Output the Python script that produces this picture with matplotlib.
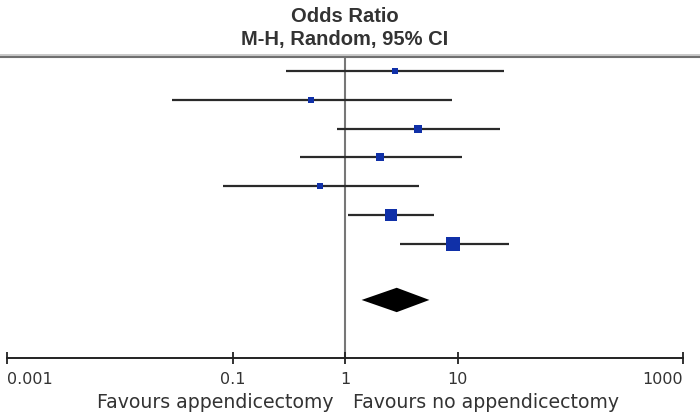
import numpy as np
import matplotlib.pyplot as plt
from matplotlib.lines import Line2D

# 各研究的 OR 及 95% CI
odds_ratio = [2.79, 0.50, 4.41, 2.04, 0.60, 2.54, 9.14]
ci_low = [0.30, 0.029, 0.85, 0.395, 0.082, 1.07, 3.07]
ci_high = [25.8, 8.85, 23.8, 11.0, 4.56, 6.12, 28.7]
weight = [5.6, 5.6, 11.1, 11.1, 6.8, 27.3, 32.5]  # %

# 合并效应 (M-H, Random)
pooled_or = 2.87
pooled_low = 1.40
pooled_high = 5.60

tick_values = [0.001, 0.1, 1, 10, 1000]
tick_labels = ['0.001', '0.1', '1', '10', '1000']

W, H = 700, 414
ROW_PX = 28.8      # 行距(像素)
FIRST_ROW_PX = 72  # 第一行位置
TOP_PX, AXIS_PX = 57, 359
X_LEFT_PX, X_RIGHT_PX = 7.3, 683

fig = plt.figure(figsize=(W / 100, H / 100), dpi=100)
ax = fig.add_axes([X_LEFT_PX / W, 1 - AXIS_PX / H,
                   (X_RIGHT_PX - X_LEFT_PX) / W, (AXIS_PX - TOP_PX) / H])
ax.set_xscale('log')
ax.set_xlim(0.001, 1000)
ax.set_ylim((AXIS_PX - FIRST_ROW_PX) / ROW_PX, (TOP_PX - FIRST_ROW_PX) / ROW_PX)

for s in ['top', 'left', 'right']:
    ax.spines[s].set_visible(False)
ax.spines['bottom'].set_color('#222222')
ax.spines['bottom'].set_linewidth(1.4)
ax.set_yticks([])
ax.set_xticks(tick_values)
ax.set_xticklabels(tick_labels, fontsize=11.5, color='#333333',
                   family='DejaVu Sans')
ax.minorticks_off()
ax.tick_params(axis='x', direction='inout', length=8.6, width=1.3,
               color='#222222', pad=5)
labels = ax.get_xticklabels()
labels[0].set_ha('left')
labels[-1].set_ha('right')

# 无效线
ax.axvline(1, color='#777777', lw=1.5, zorder=1)

rows = np.arange(len(odds_ratio))
ax.hlines(rows, ci_low, ci_high, color='#2a2a2a', lw=1.6, zorder=2)
for r, o, w in zip(rows, odds_ratio, weight):
    side = 2.4 * np.sqrt(w) * 0.72
    ax.plot(o, r, marker='s', ms=side, color='#1030a8', mec='#1030a8',
            mew=0, zorder=3)

# 合并效应菱形
yd = 7.95
hh = 12.2 / ROW_PX
ax.fill([pooled_low, pooled_or, pooled_high, pooled_or],
        [yd, yd - hh, yd, yd + hh], color='black', lw=0, zorder=3)

# 顶部分隔线
fig.add_artist(Line2D([0, 1], [1 - 55.5 / H] * 2, color='#c0c0c0', lw=1.2))
fig.add_artist(Line2D([0, 1], [1 - 57.5 / H] * 2, color='#707070', lw=1.5))

title_kw = dict(ha='center', va='center', fontsize=14.5, fontweight='bold',
                color='#333333', family='Liberation Sans')
fig.text(345 / W, 1 - 16 / H, 'Odds Ratio', **title_kw)
fig.text(345 / W, 1 - 40 / H, 'M-H, Random, 95% CI', **title_kw)

fav_kw = dict(xycoords=('data', 'axes fraction'), textcoords='offset points',
              va='center', fontsize=13.6, color='#333333', family='DejaVu Sans')
ax.annotate('Favours appendicectomy', xy=(1, 0), xytext=(-8.5, -31),
            ha='right', **fav_kw)
ax.annotate('Favours no appendicectomy', xy=(1, 0), xytext=(6, -31),
            ha='left', **fav_kw)

fig.savefig('out.png', dpi=100)
